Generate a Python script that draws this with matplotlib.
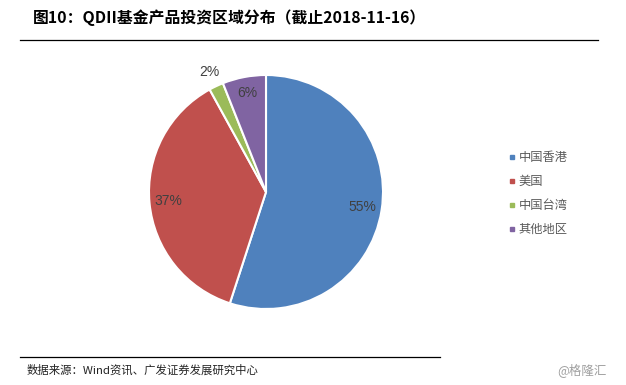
import numpy as np
import matplotlib.pyplot as plt
from matplotlib.lines import Line2D

plt.rcParams["font.family"] = ["Noto Sans CJK SC", "DejaVu Sans"]

# --- data ---
regions = ["中国香港", "美国", "中国台湾", "其他地区"]
shares = [55, 37, 2, 6]
colors = ["#4F81BD", "#C0504D", "#9BBB59", "#8064A2"]
label_dist = [0.83, 0.84, 1.13, 0.86]

title = "图10：QDII基金产品投资区域分布（截止2018-11-16）"
source = "数据来源：Wind资讯、广发证券发展研究中心"
watermark = "@格隆汇"

W, H = 626, 385
fig = plt.figure(figsize=(W / 100, H / 100), dpi=100)
fig.patch.set_facecolor("white")

# pie axes: centre (266,192) px, radius 117 px
cx, cy, r = 266, 192, 117
ax = fig.add_axes([(cx - r) / W, (H - cy - r) / H, 2 * r / W, 2 * r / H])
wedges, _ = ax.pie(shares, colors=colors, startangle=90, counterclock=False,
                   wedgeprops=dict(edgecolor="white", linewidth=1.5))
ax.set_xlim(-1, 1)
ax.set_ylim(-1, 1)
ax.set_aspect("equal")
ax.axis("off")

for w, v, d in zip(wedges, shares, label_dist):
  ang = np.deg2rad((w.theta1 + w.theta2) / 2)
  ax.text(d * np.cos(ang), d * np.sin(ang), f"{v}%", ha="center", va="center",
          fontsize=10, color="#404040", family=["Liberation Sans", "DejaVu Sans"])

# legend
handles = [Line2D([], [], marker="s", linestyle="none", markersize=3.5,
                  markerfacecolor=c, markeredgecolor=c) for c in colors]
fig.legend(handles, regions, loc="upper left", bbox_to_anchor=(503 / W, 1 - 146 / H),
           frameon=False, fontsize=8.8, labelcolor="#595959", handlelength=0.6,
           handletextpad=0.3, labelspacing=0.9, borderaxespad=0)

# title and rules
fig.text(33 / W, 1 - 18 / H, title, fontsize=11.4, fontweight="bold", va="center",
         ha="left", color="black")
fig.add_artist(Line2D([20 / W, 598 / W], [1 - 40 / H, 1 - 40 / H], color="black", lw=0.9))
fig.add_artist(Line2D([20 / W, 440 / W], [1 - 357 / H, 1 - 357 / H], color="black", lw=0.9))
fig.text(27 / W, 1 - 370 / H, source, fontsize=8.2, va="center", ha="left", color="#222222")
fig.text(607 / W, 1 - 370 / H, watermark, fontsize=9, va="center", ha="right", color="#A0A0A0")

fig.savefig("out.png", dpi=100, facecolor="white")
